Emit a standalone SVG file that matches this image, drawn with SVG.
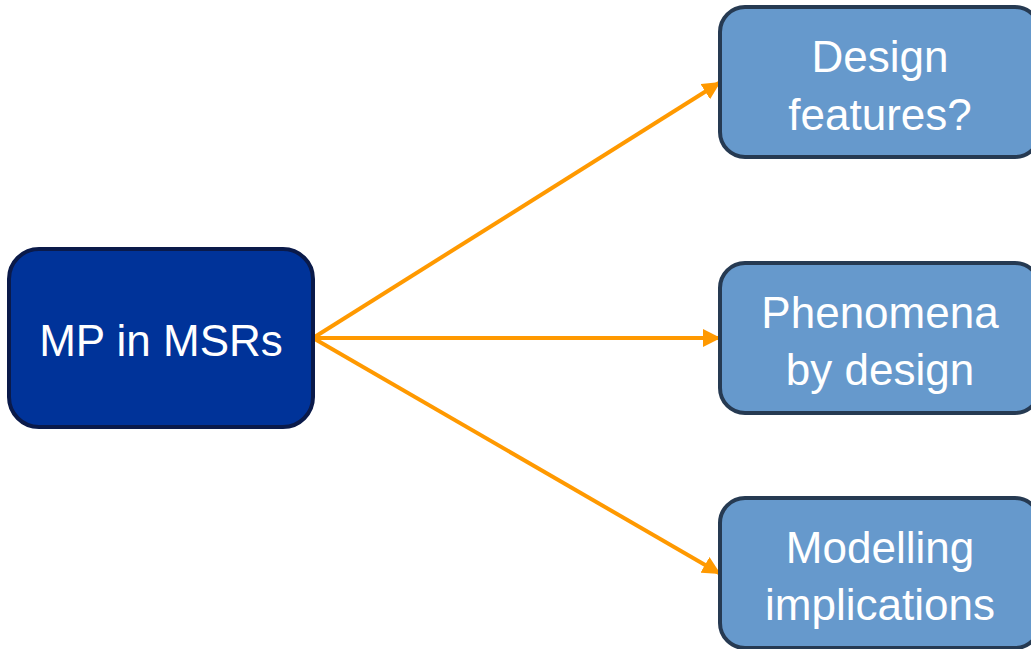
<svg xmlns="http://www.w3.org/2000/svg" width="1031" height="649" viewBox="0 0 1031 649">
<style>
.src{fill:#003399;stroke:#0a1a4a;stroke-width:4}
.dst{fill:#6699cc;stroke:#263a52;stroke-width:4}
.t{font-family:"Liberation Sans",Arial,sans-serif;font-size:44px;fill:#ffffff;text-anchor:middle}
.c{stroke:#ff9900;stroke-width:4;fill:none;marker-end:url(#ah)}
</style>
<defs>
<marker id="ah" viewBox="0 0 10 10" refX="9" refY="5" markerWidth="4.5" markerHeight="4.5" orient="auto" markerUnits="strokeWidth">
<path d="M0,0 L10,5 L0,10 z" fill="#ff9900"/>
</marker>
</defs>
<rect width="1031" height="649" fill="#ffffff"/>
<g id="connectors">
<line class="c" x1="313" y1="338" x2="719" y2="83"/>
<line class="c" x1="313" y1="338" x2="719" y2="338"/>
<line class="c" x1="313" y1="338" x2="719" y2="573"/>
</g>
<g id="mp">
<rect class="src" x="9" y="249" width="304" height="178" rx="30"/>
<text class="t" x="161" y="356">MP in MSRs</text>
</g>
<g id="design">
<rect class="dst" x="720" y="7" width="320" height="150" rx="25"/>
<text class="t" x="880" y="72">Design</text>
<text class="t" x="880" y="130">features?</text>
</g>
<g id="phenomena">
<rect class="dst" x="720" y="263" width="320" height="150" rx="25"/>
<text class="t" x="880" y="328">Phenomena</text>
<text class="t" x="880" y="385">by design</text>
</g>
<g id="modelling">
<rect class="dst" x="720" y="498" width="320" height="150" rx="25"/>
<text class="t" x="880" y="563">Modelling</text>
<text class="t" x="880" y="620">implications</text>
</g>
</svg>
